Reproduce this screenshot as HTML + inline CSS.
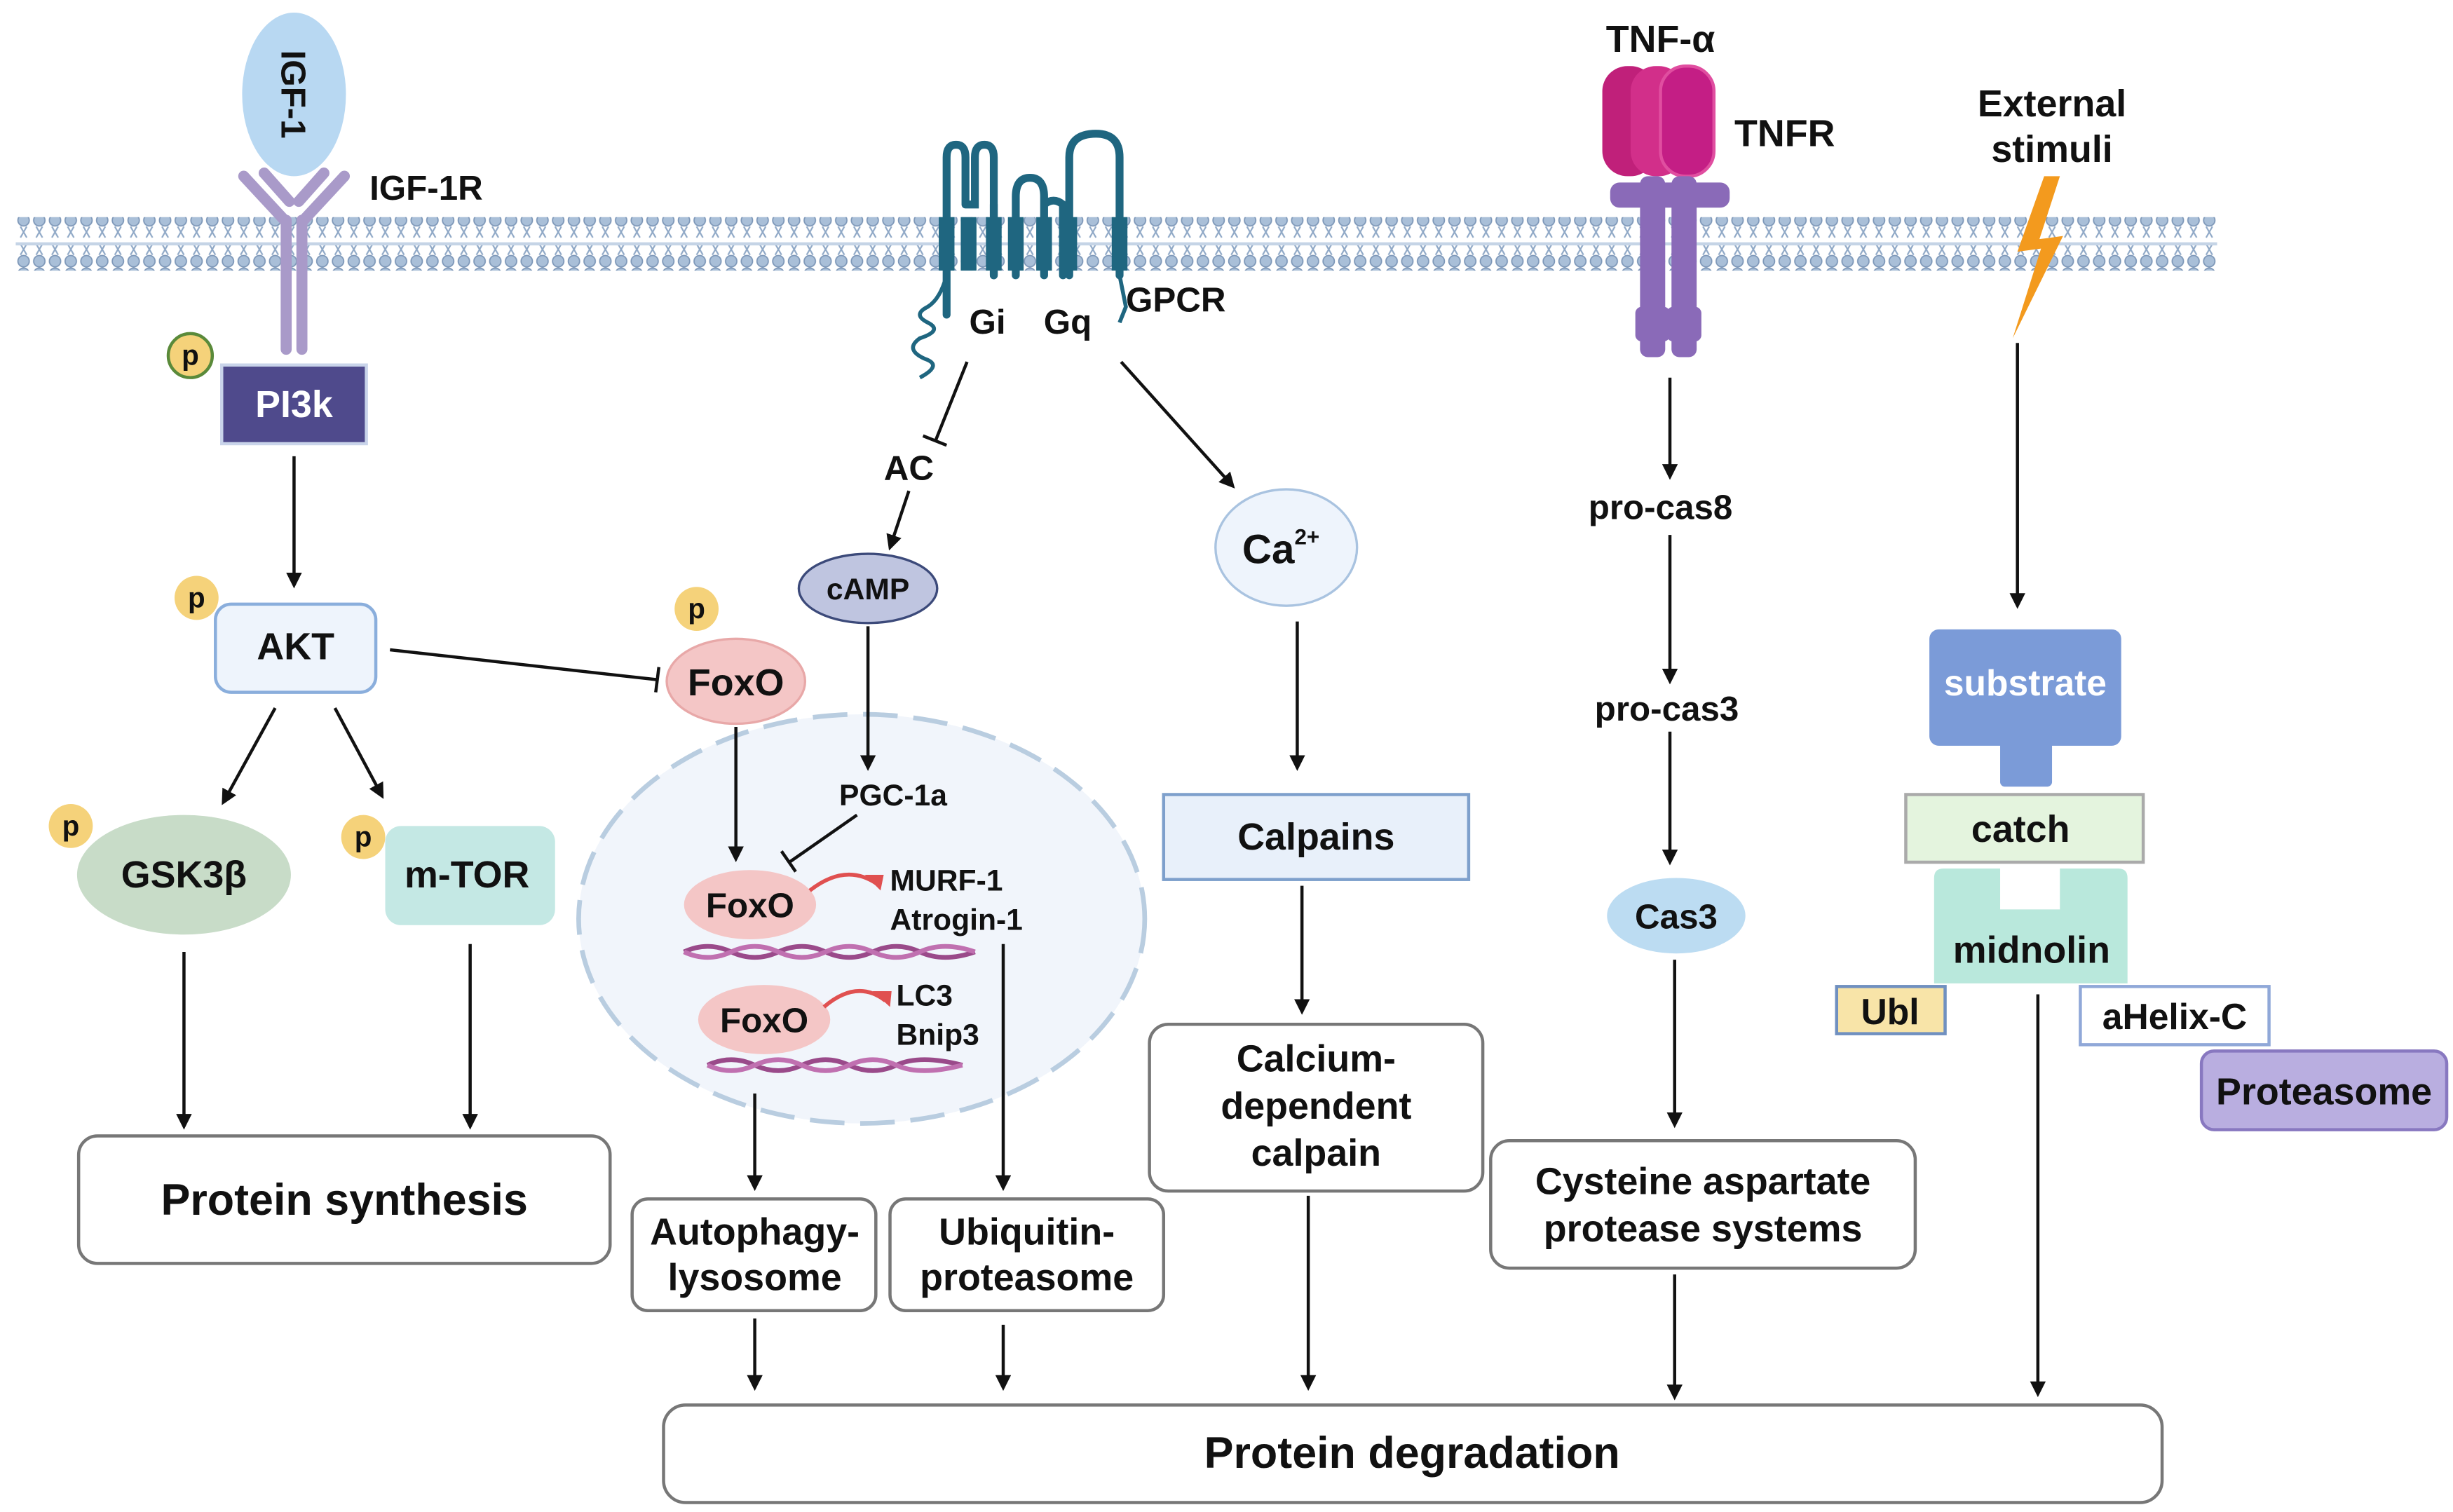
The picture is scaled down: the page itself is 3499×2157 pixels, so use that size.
<!DOCTYPE html>
<html><head><meta charset="utf-8"><style>
html,body{margin:0;padding:0;background:#fff;}
svg{display:block;}
text{font-family:"Liberation Sans",Arial,sans-serif;font-weight:bold;fill:#111;}
</style></head><body>
<svg width="3499" height="2157" viewBox="0 0 1560 961" preserveAspectRatio="none" xmlns="http://www.w3.org/2000/svg">
<defs>
<marker id="ar" markerWidth="10" markerHeight="10" refX="8" refY="5" orient="auto" markerUnits="userSpaceOnUse"><path d="M0,0 L10,5 L0,10 z" fill="#111"/></marker>
<pattern id="mem" width="10" height="34" patternUnits="userSpaceOnUse">
<circle cx="5" cy="4" r="3.6" fill="#a9bfd8" stroke="#7d97b8" stroke-width="0.8"/>
<circle cx="5" cy="30" r="3.6" fill="#a9bfd8" stroke="#7d97b8" stroke-width="0.8"/>
<path d="M3,8 L7,15 M7,8 L3,15 M3,19 L7,26 M7,19 L3,26" stroke="#8fa8c6" stroke-width="1" fill="none"/>
</pattern>
</defs>
<g stroke="#111" stroke-width="2" fill="none">
</g>
<!-- membrane -->
<rect x="10" y="138" width="1400" height="34" fill="url(#mem)"/>
<line x1="10" y1="155" x2="1410" y2="155" stroke="#c5d4e6" stroke-width="2"/>

<!-- IGF-1 -->
<ellipse cx="187" cy="60" rx="33" ry="52" fill="#b8d8f2"/>
<text x="0" y="0" font-size="22" transform="translate(179,60) rotate(90)" text-anchor="middle">IGF-1</text>
<g stroke="#a99ac9" stroke-width="7" fill="none" stroke-linecap="round">
<path d="M155,112 L181,140 M219,112 L193,140"/>
<path d="M168,110 L184,128 M206,110 L190,128"/>
<path d="M182,140 L182,222 M192,140 L192,222"/>
</g>
<text x="235" y="127" font-size="22">IGF-1R</text>

<!-- p circles -->
<g font-size="18" text-anchor="middle">
<circle cx="121" cy="226" r="14" fill="#f5d27a" stroke="#5a8a3a" stroke-width="2"/><text x="121" y="232">p</text>
<circle cx="125" cy="380" r="14" fill="#f5d27a"/><text x="125" y="386">p</text>
<circle cx="443" cy="387" r="14" fill="#f5d27a"/><text x="443" y="393">p</text>
<circle cx="45" cy="525" r="14" fill="#f5d27a"/><text x="45" y="531">p</text>
<circle cx="231" cy="532" r="14" fill="#f5d27a"/><text x="231" y="538">p</text>
</g>

<rect x="141" y="232" width="92" height="50" fill="#4f4a8c" stroke="#c9d4ea" stroke-width="2"/>
<text x="187" y="265" font-size="24" text-anchor="middle" style="fill:#fff">PI3k</text>
<line x1="187" y1="290" x2="187" y2="372" stroke="#111" stroke-width="2" marker-end="url(#ar)"/>

<rect x="137" y="384" width="102" height="56" rx="10" fill="#eef4fc" stroke="#8aaedc" stroke-width="2"/>
<text x="188" y="419" font-size="24" text-anchor="middle">AKT</text>
<line x1="248" y1="413" x2="418" y2="432" stroke="#111" stroke-width="2"/>
<line x1="419" y1="424" x2="417" y2="440" stroke="#111" stroke-width="2"/>
<ellipse cx="468" cy="433" rx="44" ry="27" fill="#f4c6c6" stroke="#e8a8a8" stroke-width="1.5"/>
<text x="468" y="442" font-size="24" text-anchor="middle">FoxO</text>

<line x1="175" y1="450" x2="142" y2="510" stroke="#111" stroke-width="2" marker-end="url(#ar)"/>
<line x1="213" y1="450" x2="243" y2="506" stroke="#111" stroke-width="2" marker-end="url(#ar)"/>
<ellipse cx="117" cy="556" rx="68" ry="38" fill="#c8dcc8"/>
<text x="117" y="564" font-size="24" text-anchor="middle">GSK3β</text>
<rect x="245" y="525" width="108" height="63" rx="10" fill="#c4e8e4"/>
<text x="297" y="564" font-size="24" text-anchor="middle">m-TOR</text>
<line x1="117" y1="605" x2="117" y2="716" stroke="#111" stroke-width="2" marker-end="url(#ar)"/>
<line x1="299" y1="600" x2="299" y2="716" stroke="#111" stroke-width="2" marker-end="url(#ar)"/>
<rect x="50" y="722" width="338" height="81" rx="12" fill="#fff" stroke="#777" stroke-width="2"/>
<text x="219" y="772" font-size="28" text-anchor="middle">Protein synthesis</text>

<!-- GPCR -->
<g stroke="#1f6680" stroke-width="5" fill="none" stroke-linecap="round">
<path d="M602,200 L602,100 Q602,92 608,92 Q614,92 614,100 L614,130 M614,130 L620,130 L620,100 Q620,92 626,92 Q632,92 632,100 L632,175"/>
<path d="M632,175 L632,130 M646,175 L646,125 Q646,113 655,113 Q664,113 664,125 L664,175 M664,175 L664,130 Q670,125 676,130 L676,175"/>
<path d="M680,175 L680,100 Q680,85 697,85 Q712,85 712,100 L712,175"/>
</g>
<g stroke="#1f6680" stroke-width="10" fill="none">
<path d="M602,138 L602,172 M616,138 L616,172 M632,138 L632,172 M646,138 L646,172 M664,138 L664,172 M680,138 L680,172 M712,138 L712,172"/>
</g>
<path d="M602,175 Q598,190 590,195 Q580,200 590,205 Q600,210 585,215 Q575,222 588,228 Q600,232 585,240" stroke="#1f6680" stroke-width="2.5" fill="none"/>
<path d="M712,175 L716,195 L712,205" stroke="#1f6680" stroke-width="2.5" fill="none"/>
<text x="628" y="212" font-size="22" text-anchor="middle">Gi</text>
<text x="679" y="212" font-size="22" text-anchor="middle">Gq</text>
<text x="716" y="198" font-size="22">GPCR</text>

<line x1="615" y1="230" x2="595" y2="280" stroke="#111" stroke-width="2"/>
<line x1="587" y1="277" x2="602" y2="283" stroke="#111" stroke-width="2"/>
<text x="578" y="305" font-size="22" text-anchor="middle">AC</text>
<line x1="578" y1="312" x2="566" y2="348" stroke="#111" stroke-width="2" marker-end="url(#ar)"/>
<ellipse cx="552" cy="374" rx="44" ry="22" fill="#bfc5e0" stroke="#3c4a7a" stroke-width="1.5"/>
<text x="552" y="381" font-size="19" text-anchor="middle">cAMP</text>

<!-- nucleus -->
<ellipse cx="548" cy="584" rx="180" ry="130" fill="#f1f5fb" stroke="#b9cde0" stroke-width="3" stroke-dasharray="22,10"/>
<line x1="552" y1="398" x2="552" y2="488" stroke="#111" stroke-width="2" marker-end="url(#ar)"/>
<text x="568" y="512" font-size="19" text-anchor="middle">PGC-1a</text>
<line x1="468" y1="462" x2="468" y2="546" stroke="#111" stroke-width="2" marker-end="url(#ar)"/>
<line x1="545" y1="518" x2="502" y2="548" stroke="#111" stroke-width="2"/>
<line x1="497" y1="541" x2="506" y2="554" stroke="#111" stroke-width="2"/>
<ellipse cx="477" cy="575" rx="42" ry="22" fill="#f4c6c6"/>
<text x="477" y="583" font-size="22" text-anchor="middle">FoxO</text>
<path d="M515,566 Q538,548 558,562" stroke="#e05050" stroke-width="2.5" fill="none"/>
<path d="M560,566 L550,556 L562,556 z" fill="#e05050"/>
<text x="566" y="566" font-size="19">MURF-1</text>
<text x="566" y="591" font-size="19">Atrogin-1</text>
<path d="M435,605 Q450,598 465,605 T495,605 T525,605 T555,605 T585,605 T620,605" stroke="#9a4a8a" stroke-width="3" fill="none"/>
<path d="M435,605 Q450,612 465,605 T495,605 T525,605 T555,605 T585,605 T620,605" stroke="#c070b0" stroke-width="3" fill="none"/>
<ellipse cx="486" cy="648" rx="42" ry="22" fill="#f4c6c6"/>
<text x="486" y="656" font-size="22" text-anchor="middle">FoxO</text>
<path d="M524,640 Q545,622 563,636" stroke="#e05050" stroke-width="2.5" fill="none"/>
<path d="M566,640 L555,630 L567,630 z" fill="#e05050"/>
<text x="570" y="639" font-size="19">LC3</text>
<text x="570" y="664" font-size="19">Bnip3</text>
<path d="M450,677 Q465,670 480,677 T510,677 T540,677 T570,677 T612,677" stroke="#9a4a8a" stroke-width="3" fill="none"/>
<path d="M450,677 Q465,684 480,677 T510,677 T540,677 T570,677 T612,677" stroke="#c070b0" stroke-width="3" fill="none"/>

<line x1="480" y1="695" x2="480" y2="755" stroke="#111" stroke-width="2" marker-end="url(#ar)"/>
<line x1="638" y1="600" x2="638" y2="755" stroke="#111" stroke-width="2" marker-end="url(#ar)"/>
<rect x="402" y="762" width="155" height="71" rx="10" fill="#fff" stroke="#777" stroke-width="2"/>
<text x="480" y="791" font-size="24" text-anchor="middle">Autophagy-</text>
<text x="480" y="820" font-size="24" text-anchor="middle">lysosome</text>
<rect x="566" y="762" width="174" height="71" rx="10" fill="#fff" stroke="#777" stroke-width="2"/>
<text x="653" y="791" font-size="24" text-anchor="middle">Ubiquitin-</text>
<text x="653" y="820" font-size="24" text-anchor="middle">proteasome</text>
<line x1="480" y1="838" x2="480" y2="882" stroke="#111" stroke-width="2" marker-end="url(#ar)"/>
<line x1="638" y1="842" x2="638" y2="882" stroke="#111" stroke-width="2" marker-end="url(#ar)"/>

<!-- Ca -->
<line x1="713" y1="230" x2="784" y2="309" stroke="#111" stroke-width="2" marker-end="url(#ar)"/>
<ellipse cx="818" cy="348" rx="45" ry="37" fill="#eef4fc" stroke="#a9c3e0" stroke-width="1.5"/>
<text x="790" y="358" font-size="26">Ca<tspan font-size="14" dy="-12">2+</tspan></text>
<line x1="825" y1="395" x2="825" y2="488" stroke="#111" stroke-width="2" marker-end="url(#ar)"/>
<rect x="740" y="505" width="194" height="54" fill="#e8f0fa" stroke="#7ea0cc" stroke-width="2"/>
<text x="837" y="540" font-size="24" text-anchor="middle">Calpains</text>
<line x1="828" y1="563" x2="828" y2="643" stroke="#111" stroke-width="2" marker-end="url(#ar)"/>
<rect x="731" y="651" width="212" height="106" rx="12" fill="#fff" stroke="#777" stroke-width="2"/>
<text x="837" y="681" font-size="24" text-anchor="middle">Calcium-</text>
<text x="837" y="711" font-size="24" text-anchor="middle">dependent</text>
<text x="837" y="741" font-size="24" text-anchor="middle">calpain</text>
<line x1="832" y1="760" x2="832" y2="882" stroke="#111" stroke-width="2" marker-end="url(#ar)"/>

<!-- TNF -->
<text x="1056" y="33" font-size="24" text-anchor="middle">TNF-α</text>
<rect x="1019" y="42" width="34" height="70" rx="16" fill="#c0207a"/>
<rect x="1037" y="42" width="34" height="70" rx="16" fill="#d22f8a"/>
<rect x="1056" y="42" width="34" height="70" rx="16" fill="#c41e85" stroke="#e04ea0" stroke-width="2"/>
<text x="1103" y="93" font-size="24">TNFR</text>
<g fill="#8a6ab8">
<rect x="1024" y="116" width="76" height="16" rx="6"/>
<rect x="1043" y="112" width="16" height="115" rx="5"/>
<rect x="1063" y="112" width="16" height="115" rx="5"/>
<rect x="1040" y="195" width="22" height="22" rx="4"/>
<rect x="1060" y="195" width="22" height="22" rx="4"/>
</g>
<line x1="1062" y1="240" x2="1062" y2="303" stroke="#111" stroke-width="2" marker-end="url(#ar)"/>
<text x="1056" y="330" font-size="22" text-anchor="middle">pro-cas8</text>
<line x1="1062" y1="340" x2="1062" y2="433" stroke="#111" stroke-width="2" marker-end="url(#ar)"/>
<text x="1060" y="458" font-size="22" text-anchor="middle">pro-cas3</text>
<line x1="1062" y1="465" x2="1062" y2="548" stroke="#111" stroke-width="2" marker-end="url(#ar)"/>
<ellipse cx="1066" cy="582" rx="44" ry="24" fill="#bcdcf2"/>
<text x="1066" y="590" font-size="22" text-anchor="middle">Cas3</text>
<line x1="1065" y1="610" x2="1065" y2="715" stroke="#111" stroke-width="2" marker-end="url(#ar)"/>
<rect x="948" y="725" width="270" height="81" rx="12" fill="#fff" stroke="#777" stroke-width="2"/>
<text x="1083" y="759" font-size="24" text-anchor="middle">Cysteine aspartate</text>
<text x="1083" y="789" font-size="24" text-anchor="middle">protease systems</text>
<line x1="1065" y1="810" x2="1065" y2="888" stroke="#111" stroke-width="2" marker-end="url(#ar)"/>

<!-- External -->
<text x="1305" y="74" font-size="24" text-anchor="middle">External</text>
<text x="1305" y="103" font-size="24" text-anchor="middle">stimuli</text>
<path d="M1300,112 L1283,160 L1298,158 L1280,215 L1312,150 L1297,152 L1310,112 z" fill="#f39a1e"/>
<line x1="1283" y1="218" x2="1283" y2="385" stroke="#111" stroke-width="2" marker-end="url(#ar)"/>
<rect x="1227" y="400" width="122" height="74" rx="6" fill="#7b9bd8"/>
<rect x="1272" y="470" width="33" height="30" rx="3" fill="#7b9bd8"/>
<text x="1288" y="442" font-size="23" text-anchor="middle" style="fill:#fff">substrate</text>
<rect x="1212" y="505" width="151" height="43" fill="#e4f4de" stroke="#aaa" stroke-width="2"/>
<text x="1285" y="535" font-size="24" text-anchor="middle">catch</text>
<path d="M1236,552 L1272,552 L1272,578 L1310,578 L1310,552 L1347,552 Q1353,552 1353,558 L1353,625 L1230,625 L1230,558 Q1230,552 1236,552 z" fill="#b9e8dc"/>
<text x="1292" y="612" font-size="24" text-anchor="middle">midnolin</text>
<rect x="1168" y="627" width="69" height="30" fill="#f8e4a8" stroke="#7090c0" stroke-width="2"/>
<text x="1202" y="651" font-size="23" text-anchor="middle">Ubl</text>
<rect x="1323" y="627" width="120" height="37" fill="#fff" stroke="#90a8d8" stroke-width="2"/>
<text x="1383" y="654" font-size="23" text-anchor="middle">aHelix-C</text>
<rect x="1400" y="668" width="156" height="50" rx="8" fill="#b9aee0" stroke="#8878c0" stroke-width="2"/>
<text x="1478" y="702" font-size="24" text-anchor="middle">Proteasome</text>
<line x1="1296" y1="632" x2="1296" y2="886" stroke="#111" stroke-width="2" marker-end="url(#ar)"/>

<rect x="422" y="893" width="953" height="62" rx="14" fill="#fff" stroke="#777" stroke-width="2"/>
<text x="898" y="933" font-size="28" text-anchor="middle">Protein degradation</text>
</svg>
</body></html>
